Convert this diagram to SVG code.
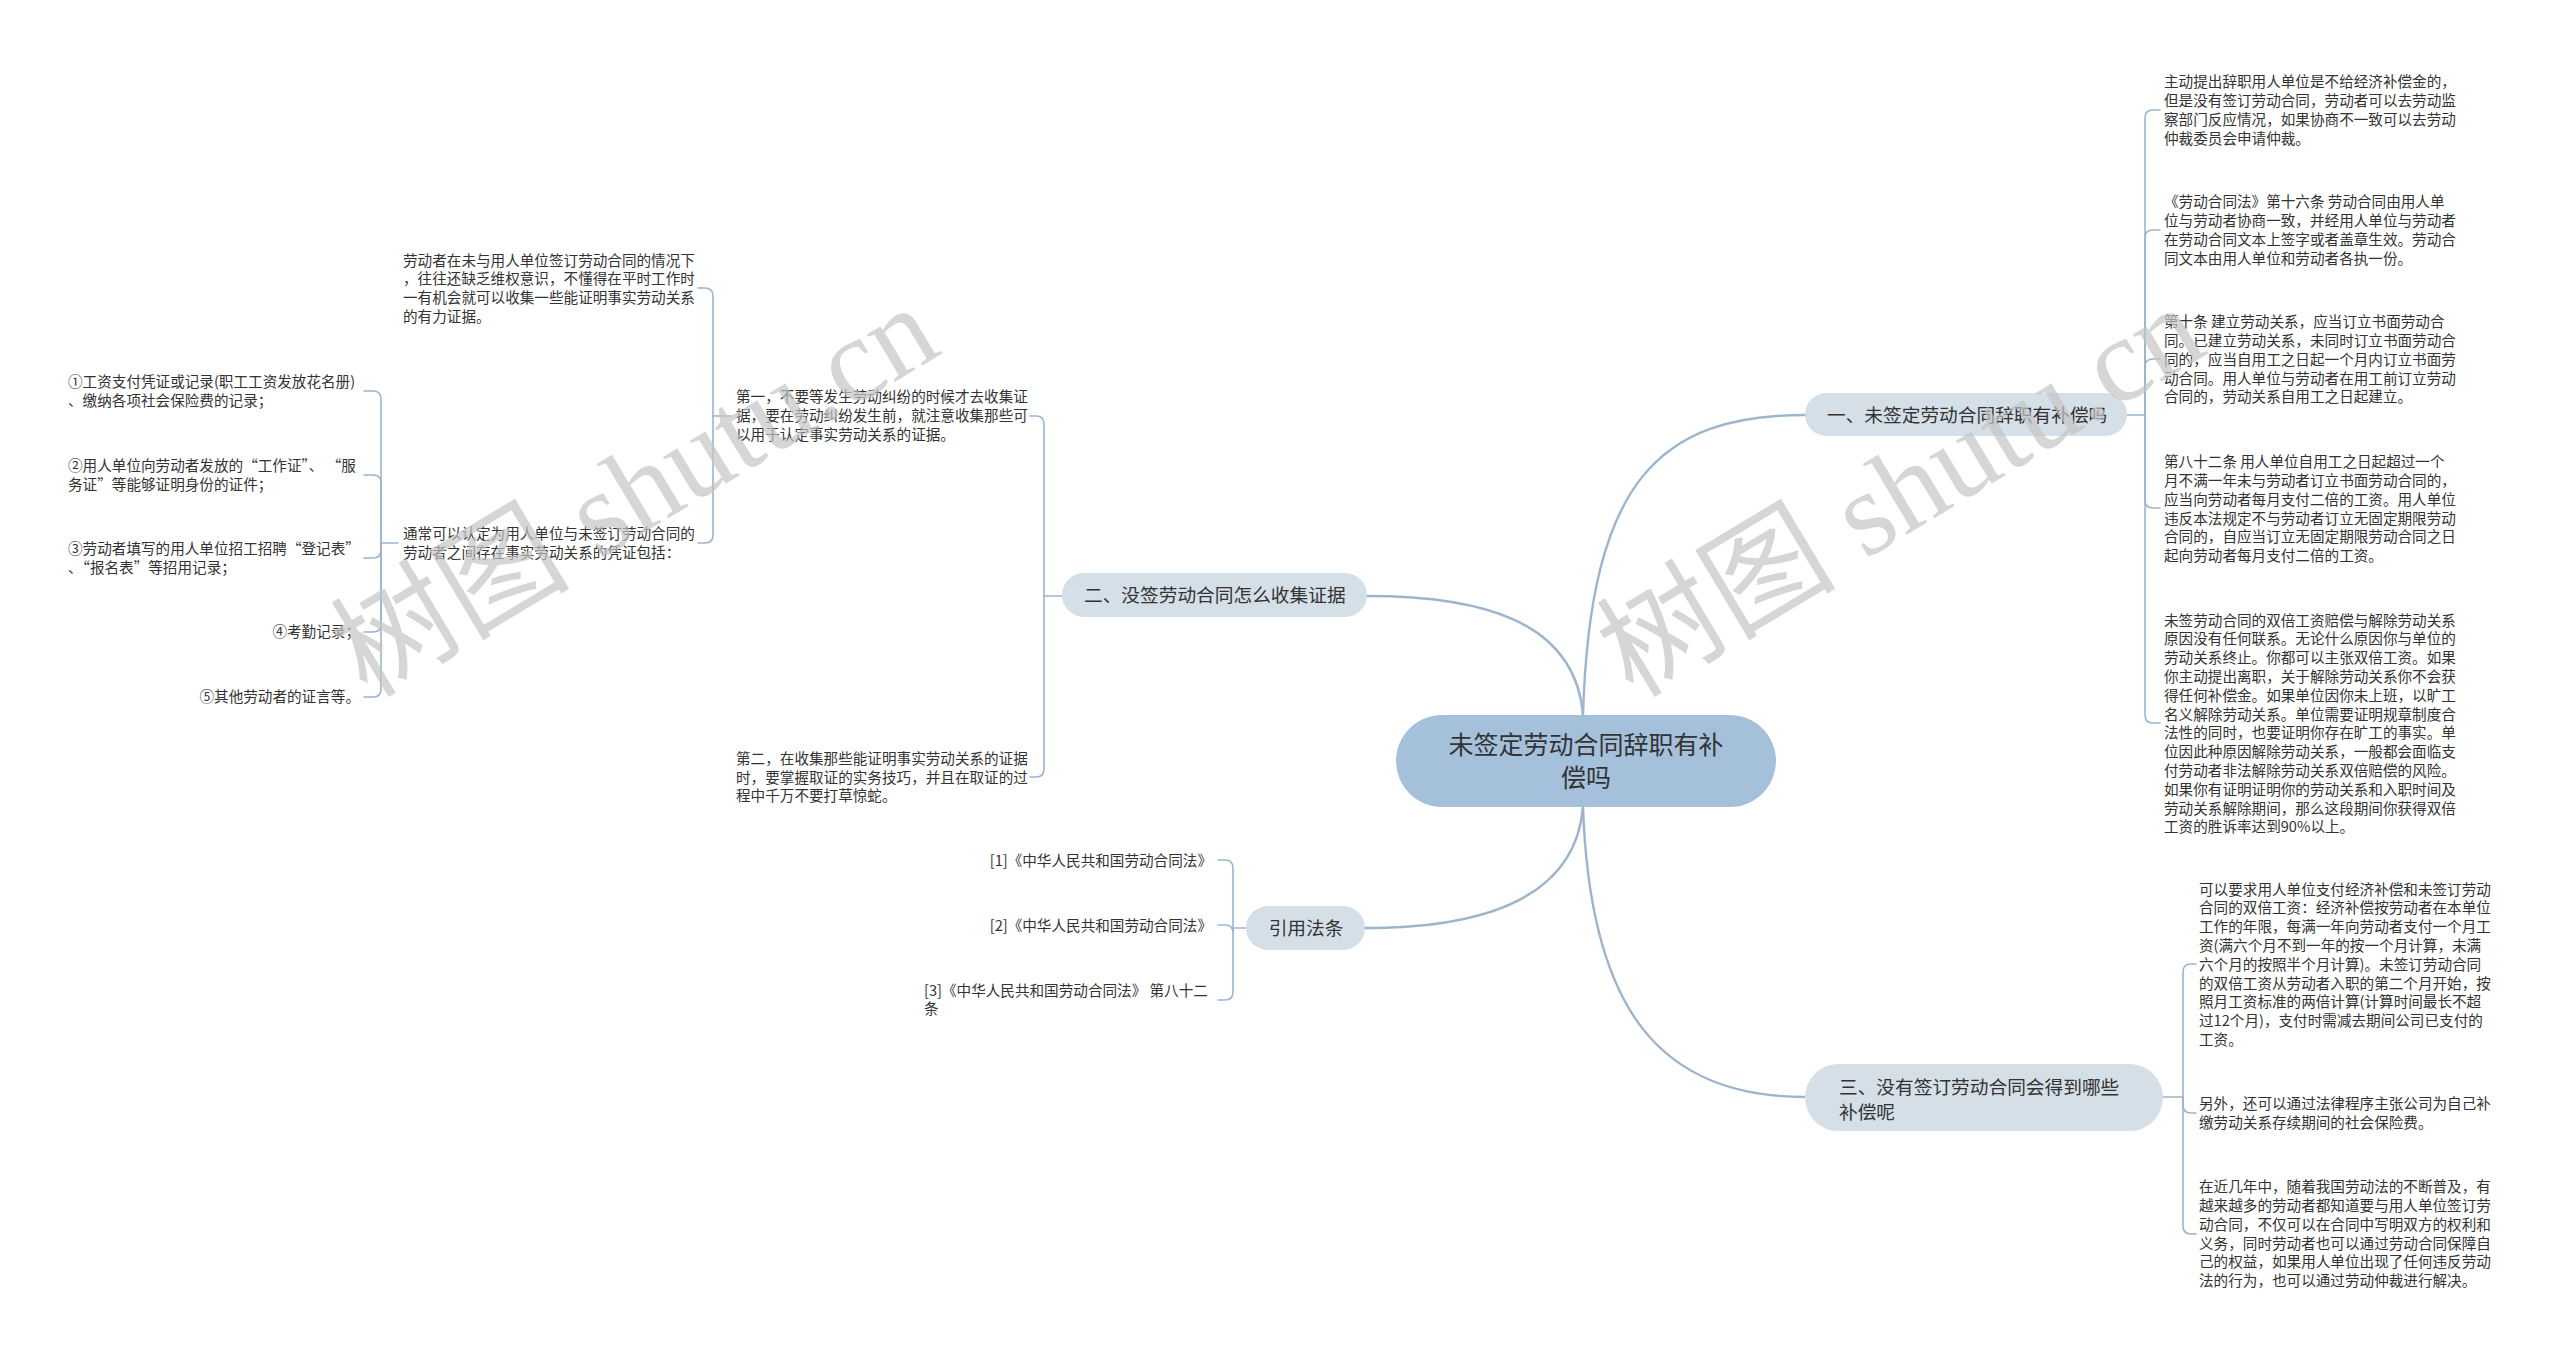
<svg xmlns="http://www.w3.org/2000/svg" width="2560" height="1359" viewBox="0 0 2560 1359">
<style>
.bg{fill:#ffffff}
.ln{fill:none;stroke:#9cb5cd;stroke-width:1.6;stroke-linecap:round}
.mln{fill:none;stroke:#9cb5cd;stroke-width:2.4;stroke-linecap:round}
.t{font-family:"Noto Sans CJK SC","Noto Sans",sans-serif;font-size:14.6px;fill:#333333}
.bt{font-family:"Noto Sans CJK SC","Noto Sans",sans-serif;font-size:18.7px;fill:#333333}
.ct{font-family:"Noto Sans CJK SC","Noto Sans",sans-serif;font-size:25px;fill:#333333}
.cbox{fill:#a4c0db}
.bbox{fill:#d4dfe8}
.wm{font-family:"Liberation Serif","Noto Sans CJK SC",serif;font-size:120px;fill:#c4c4c4;fill-opacity:0.7}
</style>
<rect class="bg" x="0" y="0" width="2560" height="1359"/>

<g id="connectors">
  <path class="mln" d="M1583,715 C1590,480 1660,415 1805,415"/>
  <path class="mln" d="M1583,715 C1575,620 1480,596 1367,596"/>
  <path class="mln" d="M1583,807 C1575,900 1480,928 1365,928"/>
  <path class="mln" d="M1583,807 C1590,1010 1660,1097 1805,1097"/>
  <path class="ln" d="M2127,415 H2145 V118 Q2145,110 2153,110 H2160"/>
  <path class="ln" d="M2145,415 V238 Q2145,230 2153,230 H2160"/>
  <path class="ln" d="M2145,415 V367 Q2145,359 2153,359 H2160"/>
  <path class="ln" d="M2145,415 V500 Q2145,508 2153,508 H2160"/>
  <path class="ln" d="M2145,415 V715 Q2145,723 2153,723 H2160"/>
  <path class="ln" d="M2163,1097 H2183 V972 Q2183,964 2191,964 H2196"/>
  <path class="ln" d="M2183,1097 V1105 Q2183,1113 2191,1113 H2196"/>
  <path class="ln" d="M2183,1097 V1226 Q2183,1234 2191,1234 H2196"/>
  <path class="ln" d="M1062,596 H1044 V424 Q1044,416 1036,416 H1030"/>
  <path class="ln" d="M1044,596 V769 Q1044,777 1036,777 H1030"/>
  <path class="ln" d="M731,416 H713 V296 Q713,288 705,288 H698"/>
  <path class="ln" d="M713,416 V535 Q713,543 705,543 H698"/>
  <path class="ln" d="M398,543 H381 V399 Q381,391 373,391 H364"/>
  <path class="ln" d="M381,543 V483 Q381,475 373,475 H364"/>
  <path class="ln" d="M381,543 V550 Q381,558 373,558 H364"/>
  <path class="ln" d="M381,543 V624 Q381,632 373,632 H364"/>
  <path class="ln" d="M381,543 V689 Q381,697 373,697 H364"/>
  <path class="ln" d="M1246,928 H1233 V868 Q1233,860 1225,860 H1218"/>
  <path class="ln" d="M1233,928 V933 Q1233,925 1225,925 H1218"/>
  <path class="ln" d="M1233,928 V992 Q1233,1000 1225,1000 H1218"/>
</g>

<g id="root">
  <rect class="cbox" x="1396" y="715" width="380" height="92" rx="46"/>
  <text class="ct" x="1586" y="754" text-anchor="middle">未签定劳动合同辞职有补</text>
  <text class="ct" x="1586" y="786.5" text-anchor="middle">偿吗</text>
</g>

<g id="b1">
  <rect class="bbox" x="1805" y="393" width="322" height="43" rx="21.5"/>
  <text class="bt" x="1827" y="422">一、未签定劳动合同辞职有补偿吗</text>
</g>
<g id="b1c1">
  <text class="t" x="2164" y="87.2"><tspan x="2164">主动提出辞职用人单位是不给经济补偿金的，</tspan><tspan x="2164" dy="18.8">但是没有签订劳动合同，劳动者可以去劳动监</tspan><tspan x="2164" dy="18.8">察部门反应情况，如果协商不一致可以去劳动</tspan><tspan x="2164" dy="18.8">仲裁委员会申请仲裁。</tspan></text>
</g>
<g id="b1c2">
  <text class="t" x="2164" y="207.2"><tspan x="2164">《劳动合同法》第十六条 劳动合同由用人单</tspan><tspan x="2164" dy="18.8">位与劳动者协商一致，并经用人单位与劳动者</tspan><tspan x="2164" dy="18.8">在劳动合同文本上签字或者盖章生效。劳动合</tspan><tspan x="2164" dy="18.8">同文本由用人单位和劳动者各执一份。</tspan></text>
</g>
<g id="b1c3">
  <text class="t" x="2164" y="327.2"><tspan x="2164">第十条 建立劳动关系，应当订立书面劳动合</tspan><tspan x="2164" dy="18.8">同。已建立劳动关系，未同时订立书面劳动合</tspan><tspan x="2164" dy="18.8">同的，应当自用工之日起一个月内订立书面劳</tspan><tspan x="2164" dy="18.8">动合同。用人单位与劳动者在用工前订立劳动</tspan><tspan x="2164" dy="18.8">合同的，劳动关系自用工之日起建立。</tspan></text>
</g>
<g id="b1c4">
  <text class="t" x="2164" y="467.2"><tspan x="2164">第八十二条 用人单位自用工之日起超过一个</tspan><tspan x="2164" dy="18.8">月不满一年未与劳动者订立书面劳动合同的，</tspan><tspan x="2164" dy="18.8">应当向劳动者每月支付二倍的工资。用人单位</tspan><tspan x="2164" dy="18.8">违反本法规定不与劳动者订立无固定期限劳动</tspan><tspan x="2164" dy="18.8">合同的，自应当订立无固定期限劳动合同之日</tspan><tspan x="2164" dy="18.8">起向劳动者每月支付二倍的工资。</tspan></text>
</g>
<g id="b1c5">
  <text class="t" x="2164" y="625.5"><tspan x="2164">未签劳动合同的双倍工资赔偿与解除劳动关系</tspan><tspan x="2164" dy="18.8">原因没有任何联系。无论什么原因你与单位的</tspan><tspan x="2164" dy="18.8">劳动关系终止。你都可以主张双倍工资。如果</tspan><tspan x="2164" dy="18.8">你主动提出离职，关于解除劳动关系你不会获</tspan><tspan x="2164" dy="18.8">得任何补偿金。如果单位因你未上班，以旷工</tspan><tspan x="2164" dy="18.8">名义解除劳动关系。单位需要证明规章制度合</tspan><tspan x="2164" dy="18.8">法性的同时，也要证明你存在旷工的事实。单</tspan><tspan x="2164" dy="18.8">位因此种原因解除劳动关系，一般都会面临支</tspan><tspan x="2164" dy="18.8">付劳动者非法解除劳动关系双倍赔偿的风险。</tspan><tspan x="2164" dy="18.8">如果你有证明证明你的劳动关系和入职时间及</tspan><tspan x="2164" dy="18.8">劳动关系解除期间，那么这段期间你获得双倍</tspan><tspan x="2164" dy="18.8">工资的胜诉率达到90%以上。</tspan></text>
</g>

<g id="b2">
  <rect class="bbox" x="1062" y="573" width="305" height="44" rx="22"/>
  <text class="bt" x="1084" y="602">二、没签劳动合同怎么收集证据</text>
</g>
<g id="b2c1">
  <text class="t" x="736" y="402.2"><tspan x="736">第一，不要等发生劳动纠纷的时候才去收集证</tspan><tspan x="736" dy="18.8">据，要在劳动纠纷发生前，就注意收集那些可</tspan><tspan x="736" dy="18.8">以用于认定事实劳动关系的证据。</tspan></text>
</g>
<g id="b2c2">
  <text class="t" x="736" y="763.8"><tspan x="736">第二，在收集那些能证明事实劳动关系的证据</tspan><tspan x="736" dy="18.8">时，要掌握取证的实务技巧，并且在取证的过</tspan><tspan x="736" dy="18.8">程中千万不要打草惊蛇。</tspan></text>
</g>
<g id="b2c1c1">
  <text class="t" x="403" y="265.5"><tspan x="403">劳动者在未与用人单位签订劳动合同的情况下</tspan><tspan x="403" dy="18.8">，往往还缺乏维权意识，不懂得在平时工作时</tspan><tspan x="403" dy="18.8">一有机会就可以收集一些能证明事实劳动关系</tspan><tspan x="403" dy="18.8">的有力证据。</tspan></text>
</g>
<g id="b2c1c2">
  <text class="t" x="403" y="538.8"><tspan x="403">通常可以认定为用人单位与未签订劳动合同的</tspan><tspan x="403" dy="18.8">劳动者之间存在事实劳动关系的凭证包括：</tspan></text>
</g>
<g id="e1">
  <text class="t" x="68" y="387.1"><tspan x="68">①工资支付凭证或记录(职工工资发放花名册)</tspan><tspan x="68" dy="18.8">、缴纳各项社会保险费的记录；</tspan></text>
</g>
<g id="e2">
  <text class="t" x="68" y="471.1"><tspan x="68">②用人单位向劳动者发放的“工作证”、 “服</tspan><tspan x="68" dy="18.8">务证”等能够证明身份的证件；</tspan></text>
</g>
<g id="e3">
  <text class="t" x="68" y="554.1"><tspan x="68">③劳动者填写的用人单位招工招聘“登记表”</tspan><tspan x="68" dy="18.8">、“报名表”等招用记录；</tspan></text>
</g>
<g id="e4">
  <text class="t" x="360" y="637.2" text-anchor="end">④考勤记录；</text>
</g>
<g id="e5">
  <text class="t" x="360" y="702.2" text-anchor="end">⑤其他劳动者的证言等。</text>
</g>

<g id="b3">
  <rect class="bbox" x="1246" y="906" width="119" height="44" rx="22"/>
  <text class="bt" x="1306" y="935" text-anchor="middle">引用法条</text>
</g>
<g id="r1">
  <text class="t" x="1212" y="865.5" text-anchor="end">[1]《中华人民共和国劳动合同法》</text>
</g>
<g id="r2">
  <text class="t" x="1212" y="930.5" text-anchor="end">[2]《中华人民共和国劳动合同法》</text>
</g>
<g id="r3">
  <text class="t" x="924" y="995.5"><tspan x="924">[3]《中华人民共和国劳动合同法》 第八十二</tspan><tspan x="924" dy="18.8">条</tspan></text>
</g>

<g id="b4">
  <rect class="bbox" x="1805" y="1064" width="358" height="67" rx="33.5"/>
  <text class="bt" x="1839" y="1093.8">三、没有签订劳动合同会得到哪些</text>
  <text class="bt" x="1839" y="1118.8">补偿呢</text>
</g>
<g id="b4c1">
  <text class="t" x="2199" y="894.5"><tspan x="2199">可以要求用人单位支付经济补偿和未签订劳动</tspan><tspan x="2199" dy="18.8">合同的双倍工资：经济补偿按劳动者在本单位</tspan><tspan x="2199" dy="18.8">工作的年限，每满一年向劳动者支付一个月工</tspan><tspan x="2199" dy="18.8">资(满六个月不到一年的按一个月计算，未满</tspan><tspan x="2199" dy="18.8">六个月的按照半个月计算)。未签订劳动合同</tspan><tspan x="2199" dy="18.8">的双倍工资从劳动者入职的第二个月开始，按</tspan><tspan x="2199" dy="18.8">照月工资标准的两倍计算(计算时间最长不超</tspan><tspan x="2199" dy="18.8">过12个月)，支付时需减去期间公司已支付的</tspan><tspan x="2199" dy="18.8">工资。</tspan></text>
</g>
<g id="b4c2">
  <text class="t" x="2199" y="1108.8"><tspan x="2199">另外，还可以通过法律程序主张公司为自己补</tspan><tspan x="2199" dy="18.8">缴劳动关系存续期间的社会保险费。</tspan></text>
</g>
<g id="b4c3">
  <text class="t" x="2199" y="1192.2"><tspan x="2199">在近几年中，随着我国劳动法的不断普及，有</tspan><tspan x="2199" dy="18.8">越来越多的劳动者都知道要与用人单位签订劳</tspan><tspan x="2199" dy="18.8">动合同，不仅可以在合同中写明双方的权利和</tspan><tspan x="2199" dy="18.8">义务，同时劳动者也可以通过劳动合同保障自</tspan><tspan x="2199" dy="18.8">己的权益，如果用人单位出现了任何违反劳动</tspan><tspan x="2199" dy="18.8">法的行为，也可以通过劳动仲裁进行解决。</tspan></text>
</g>

<g id="watermarks">
  <text class="wm" transform="translate(367,699) rotate(-31)">树图 shutu.cn</text>
  <text class="wm" transform="translate(1633,699) rotate(-31)">树图 shutu.cn</text>
</g>
</svg>
